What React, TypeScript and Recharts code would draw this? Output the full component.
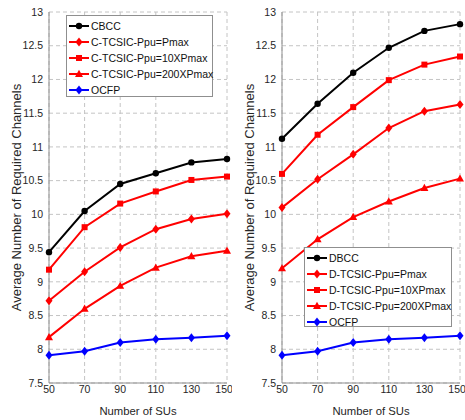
import React from 'react';
import { LineChart, Line, XAxis, YAxis, CartesianGrid } from 'recharts';

const sus = [50, 70, 90, 110, 130, 150];
const yTicks = [7.5, 8, 8.5, 9, 9.5, 10, 10.5, 11, 11.5, 12, 12.5, 13];

// left panel (centralized)
const cbcc = [9.44, 10.05, 10.45, 10.61, 10.77, 10.82];
const cPmax = [8.72, 9.15, 9.51, 9.78, 9.93, 10.01];
const c10x = [9.18, 9.81, 10.16, 10.34, 10.51, 10.56];
const c200x = [8.18, 8.6, 8.94, 9.21, 9.38, 9.46];
const ocfp = [7.91, 7.97, 8.1, 8.15, 8.17, 8.2];

// right panel (distributed)
const dbcc = [11.12, 11.64, 12.1, 12.47, 12.72, 12.82];
const dPmax = [10.1, 10.52, 10.89, 11.28, 11.53, 11.63];
const d10x = [10.6, 11.18, 11.59, 11.99, 12.22, 12.34];
const d200x = [9.2, 9.63, 9.96, 10.19, 10.39, 10.53];

const leftNames = ['CBCC', 'C-TCSIC-Ppu=Pmax', 'C-TCSIC-Ppu=10XPmax', 'C-TCSIC-Ppu=200XPmax', 'OCFP'];
const rightNames = ['DBCC', 'D-TCSIC-Ppu=Pmax', 'D-TCSIC-Ppu=10XPmax', 'D-TCSIC-Ppu=200XPmax', 'OCFP'];

const colors = ['#000000', '#ff0000', '#ff0000', '#ff0000', '#0000ff'];
const shapes = ['circle', 'diamond', 'square', 'triangle', 'diamond'];
const keys = ['s0', 's1', 's2', 's3', 's4'];

const buildRows = (series: number[][]) =>
  sus.map((x, i) => {
    const row: any = { x };
    series.forEach((s, j) => (row[keys[j]] = s[i]));
    return row;
  });

const leftRows = buildRows([cbcc, cPmax, c10x, c200x, ocfp]);
const rightRows = buildRows([dbcc, dPmax, d10x, d200x, ocfp]);

const Marker = ({ shape, x, y, color }: any) => {
  if (shape === 'circle') return <circle cx={x} cy={y} r={3.2} fill={color} />;
  if (shape === 'square') return <rect x={x - 3} y={y - 3} width={6} height={6} fill={color} />;
  if (shape === 'triangle')
    return <polygon points={`${x},${y - 4.2} ${x + 4},${y + 3} ${x - 4},${y + 3}`} fill={color} />;
  return <polygon points={`${x},${y - 4.5} ${x + 3.5},${y} ${x},${y + 4.5} ${x - 3.5},${y}`} fill={color} />;
};

const tickStyle = { fontSize: 10.5, fill: '#262626' };
const frame = '#8f8f8f';

const LegendBox = ({ names, left, top, width, height }: any) => (
  <div
    style={{
      position: 'absolute',
      left,
      top,
      width,
      height,
      boxSizing: 'border-box',
      border: `1px solid ${frame}`,
      background: '#fff',
      paddingTop: 2,
    }}
  >
    {names.map((n: string, i: number) => (
      <div key={n} style={{ display: 'flex', alignItems: 'center', height: 16 }}>
        <svg width={24} height={16} style={{ flex: 'none' }}>
          <line x1={2} y1={8} x2={22} y2={8} stroke={colors[i]} strokeWidth={2} />
          <Marker shape={shapes[i]} x={12} y={8} color={colors[i]} />
        </svg>
        <span style={{ fontSize: 10.5, color: '#111', whiteSpace: 'nowrap' }}>{n}</span>
      </div>
    ))}
  </div>
);

const Panel = ({ rows, names, legend }: any) => (
  <div style={{ position: 'relative', width: 232, height: 420 }}>
    <LineChart width={232} height={420} data={rows} margin={{ top: 12, right: 5, bottom: 0, left: 0 }}>
      <CartesianGrid strokeDasharray="4 3" stroke="#c4c4c4" />
      <XAxis
        dataKey="x"
        type="number"
        domain={[50, 150]}
        ticks={sus}
        height={37}
        tickLine={false}
        tickSize={2}
        tickMargin={1}
        tick={tickStyle}
        axisLine={{ stroke: frame }}
        label={{ value: 'Number of SUs', position: 'insideBottom', offset: 5, style: { fontSize: 11.3, fill: '#262626' } }}
      />
      <XAxis xAxisId="top" dataKey="x" type="number" domain={[50, 150]} orientation="top" height={0} tick={false} tickLine={false} axisLine={{ stroke: frame }} />
      <YAxis
        type="number"
        domain={[7.5, 13]}
        ticks={yTicks}
        width={49}
        tickLine={false}
        tickSize={4}
        tickMargin={2}
        tick={tickStyle}
        axisLine={{ stroke: frame }}
        label={{
          value: 'Average Number of Required Channels',
          angle: -90,
          position: 'center',
          dx: -8,
          style: { fontSize: 13, fill: '#262626', textAnchor: 'middle' },
        }}
      />
      <YAxis yAxisId="right" type="number" domain={[7.5, 13]} orientation="right" width={0} tick={false} tickLine={false} axisLine={{ stroke: frame }} />
      {keys.map((k, i) => (
        <Line
          key={k}
          dataKey={k}
          name={names[i]}
          stroke={colors[i]}
          strokeWidth={2}
          isAnimationActive={false}
          dot={(p: any) => (
            <g key={`${k}-${p.index}`}>
              <Marker shape={shapes[i]} x={p.cx} y={p.cy} color={colors[i]} />
            </g>
          )}
          activeDot={false}
        />
      ))}
    </LineChart>
    <LegendBox names={names} {...legend} />
  </div>
);

export default function App() {
  return (
    <div
      style={{
        position: 'absolute',
        left: 0,
        top: 0,
        width: 465,
        height: 420,
        background: '#fff',
        display: 'flex',
        gap: 1,
        fontFamily: 'Arial, "Liberation Sans", sans-serif',
      }}
    >
      <Panel rows={leftRows} names={leftNames} legend={{ left: 66, top: 15, width: 147, height: 82 }} />
      <Panel rows={rightRows} names={rightNames} legend={{ left: 71, top: 247, width: 148, height: 80 }} />
    </div>
  );
}
